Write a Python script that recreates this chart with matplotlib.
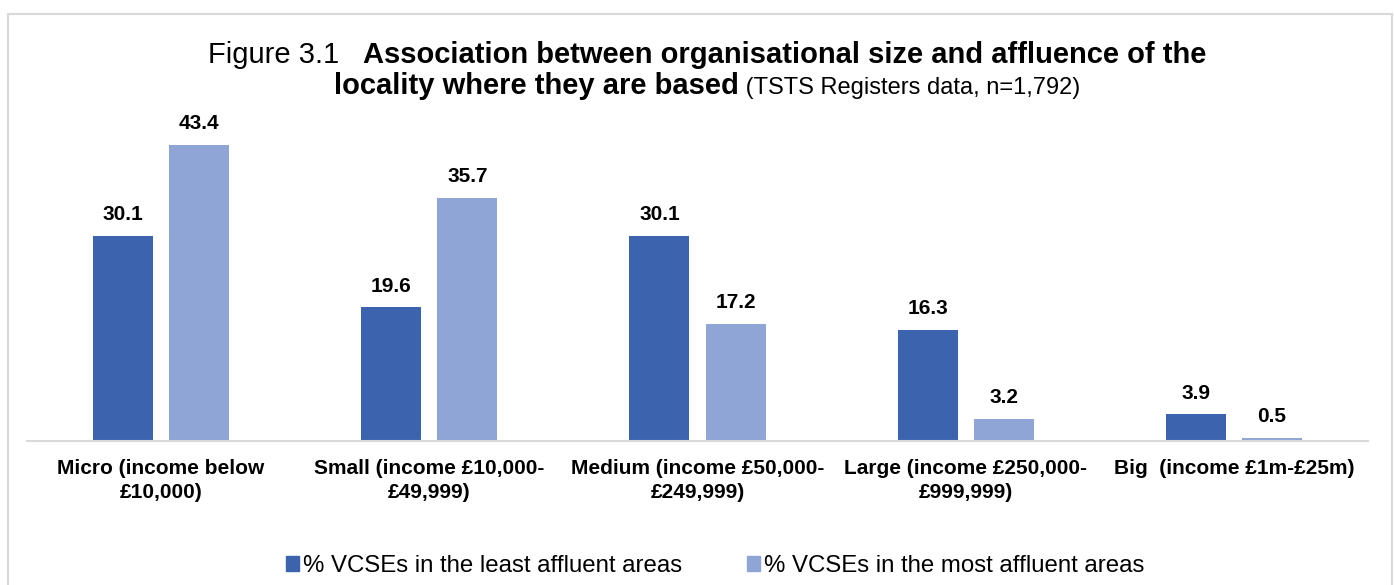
import matplotlib.pyplot as plt
from matplotlib.patches import Patch, Rectangle
import numpy as np

plt.rcParams['font.family'] = ['Liberation Sans', 'DejaVu Sans']

# Data
categories = [
    "Micro (income below\n£10,000)",
    "Small (income £10,000-\n£49,999)",
    "Medium (income £50,000-\n£249,999)",
    "Large (income £250,000-\n£999,999)",
    "Big  (income £1m-£25m)",
]
least_affluent = [30.1, 19.6, 30.1, 16.3, 3.9]
most_affluent = [43.4, 35.7, 17.2, 3.2, 0.5]
series_names = ["% VCSEs in the least affluent areas",
                "% VCSEs in the most affluent areas"]

dark_blue = "#3C64AE"
light_blue = "#8FA5D6"

W, H = 1394, 585
fig = plt.figure(figsize=(W / 100, H / 100), dpi=100)

# light grey frame around the chart
fig.patches.append(Rectangle((8 / W, -0.05), (W - 10) / W, 1 - 14 / H + 0.05,
                             transform=fig.transFigure, fill=False,
                             edgecolor="#D9D9D9", linewidth=1.5))

ax = fig.add_axes([27 / W, (H - 441) / H, 1341 / W, (441 - 100) / H])

x = np.arange(len(categories))
width = 0.224
offset = 0.142
bars1 = ax.bar(x - offset, least_affluent, width, color=dark_blue)
bars2 = ax.bar(x + offset, most_affluent, width, color=light_blue)

for bars, vals in [(bars1, least_affluent), (bars2, most_affluent)]:
    for b, v in zip(bars, vals):
        ax.annotate(f"{v:.1f}", (b.get_x() + b.get_width() / 2, v),
                    xytext=(0, 8.5), textcoords="offset points",
                    ha="center", va="bottom", fontsize=15, fontweight="bold")

ax.set_xlim(-0.5, len(categories) - 0.5)
ax.set_ylim(0, 50)
ax.set_yticks([])
ax.set_xticks(x)
ax.set_xticklabels(categories, fontsize=15, fontweight="bold", linespacing=1.33)
ax.tick_params(axis="x", length=0, pad=13)
for s in ["top", "right", "left"]:
    ax.spines[s].set_visible(False)
ax.spines["bottom"].set_color("#D9D9D9")
ax.spines["bottom"].set_linewidth(1.5)

handles = [Patch(color=dark_blue), Patch(color=light_blue)]
fig.legend(handles, series_names, loc="center", bbox_to_anchor=(0.513, 1 - 566 / H),
           ncol=2, frameon=False, fontsize=17.3, handlelength=0.55, handleheight=0.55,
           handletextpad=0.15, columnspacing=2.7)

# Title built from pieces with mixed weight and size
renderer = fig.canvas.get_renderer()


def title_line(pieces, y_px, center_px=707):
    texts = []
    for s, size, weight in pieces:
        t = fig.text(0, 1 - y_px / H, s, fontsize=size, fontweight=weight,
                     va="baseline", ha="left")
        texts.append(t)
    widths = [t.get_window_extent(renderer).width for t in texts]
    xpos = center_px - sum(widths) / 2
    for t, w in zip(texts, widths):
        t.set_x(xpos / W)
        xpos += w


title_line([("Figure 3.1   ", 21, "normal"),
            ("Association between organisational size and affluence of the", 21, "bold")], 63)
title_line([("locality where they are based", 21, "bold"),
            (" (TSTS Registers data, n=1,792)", 17, "normal")], 94)

fig.savefig("out.png", dpi=100)
